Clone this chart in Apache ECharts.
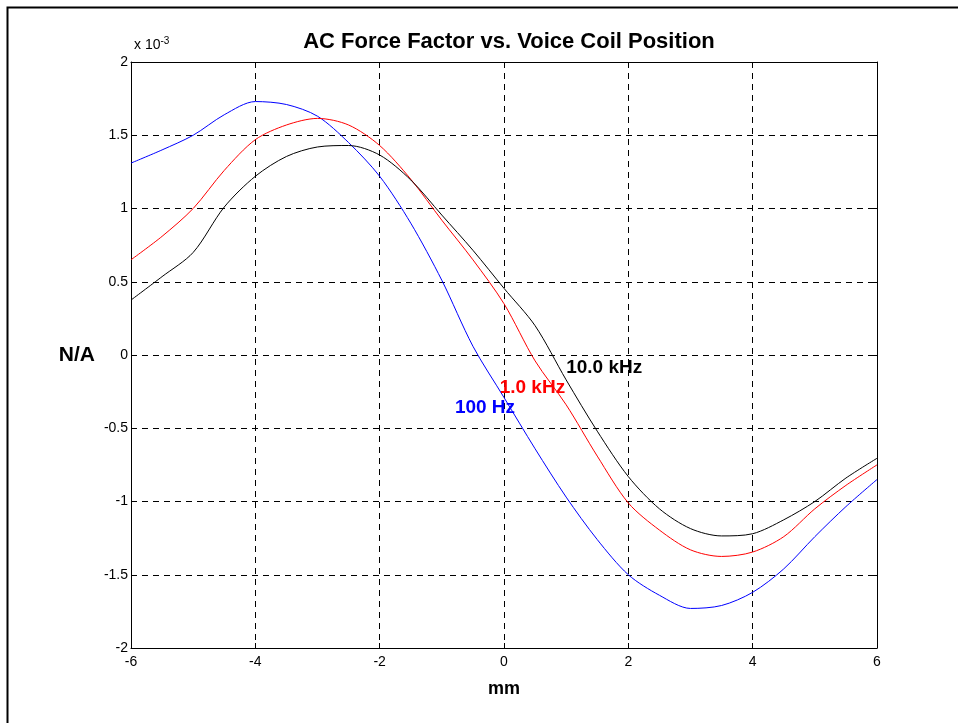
<!DOCTYPE html>
<html>
<head>
<meta charset="utf-8">
<script src="https://cdn.jsdelivr.net/npm/echarts@6/dist/echarts.min.js"></script>
<style>
html,body{margin:0;padding:0;background:#fff;}
#chart{width:958px;height:723px;}
</style>
</head>
<body>
<div id="chart"></div>
<script>
// positions in mm
const positions = [-6,-5.5,-5,-4.5,-4,-3.5,-3,-2.5,-2,-1.5,-1,-0.5,0,0.5,1,1.5,2,2.5,3,3.5,4,4.5,5,5.5,6];
// force factor, N/A (x 10^-3)
const hz100 = [1.31,1.40,1.50,1.64,1.73,1.71,1.63,1.45,1.22,0.90,0.51,0.06,-0.29,-0.64,-0.97,-1.26,-1.50,-1.64,-1.73,-1.71,-1.62,-1.46,-1.24,-1.035,-0.85];
const khz1 = [0.65,0.81,1.00,1.26,1.47,1.57,1.615,1.57,1.43,1.20,0.92,0.65,0.35,-0.04,-0.34,-0.69,-1.01,-1.195,-1.33,-1.375,-1.345,-1.24,-1.05,-0.89,-0.75];
const khz10 = [0.375,0.535,0.70,1.01,1.22,1.355,1.42,1.43,1.365,1.195,0.955,0.715,0.455,0.20,-0.17,-0.52,-0.83,-1.05,-1.185,-1.235,-1.22,-1.125,-1.00,-0.84,-0.705];
const seriesNames = ['100 Hz','1.0 kHz','10.0 kHz'];
const seriesColors = ['#0000ff','#ff0000','#000000'];
// where the curve names sit [x, y]
const namePos = [[-0.79,-0.36],[-0.07,-0.225],[1.0,-0.09]];

const font = 'Liberation Sans, Arial, sans-serif';
let chart = echarts.init(document.getElementById('chart'));

function pairs(ys){
    return positions.map(function(x,i){ return [x, ys[i]]; });
}

const gridDash = {color:'#000', width:1, type:[6,5]};

function xAx(top){
    return {
        type:'value', min:-6, max:6, interval:2,
        position: top ? 'top' : 'bottom',
        axisLine:{show:true, onZero:false, lineStyle:{color:'#000',width:1}},
        axisTick:{show:true, inside:true, length:5, lineStyle:{color:'#000'}},
        axisLabel:{show:!top, color:'#000', fontFamily:font, fontSize:14, margin:7},
        splitLine:{show:!top, lineStyle:gridDash},
        name: top ? '' : 'mm',
        nameLocation:'middle', nameGap:32,
        nameTextStyle:{color:'#000', fontFamily:font, fontSize:18, fontWeight:'bold'}
    };
}
function yAx(right){
    return {
        type:'value', min:-2, max:2, interval:0.5,
        position: right ? 'right' : 'left',
        axisLine:{show:true, onZero:false, lineStyle:{color:'#000',width:1}},
        axisTick:{show:true, inside:true, length:5, lineStyle:{color:'#000'}},
        axisLabel:{show:!right, color:'#000', fontFamily:font, fontSize:14, margin:3},
        splitLine:{show:!right, lineStyle:gridDash},
        name: right ? '' : 'N/A',
        nameLocation:'middle', nameGap:36, nameRotate:0,
        nameTextStyle:{color:'#000', fontFamily:font, fontSize:21, fontWeight:'bold'}
    };
}

const series = [hz100, khz1, khz10].map(function(ys,i){
    return {
        name:seriesNames[i], type:'line', data:pairs(ys),
        smooth:0.3, showSymbol:false, silent:true,
        lineStyle:{color:seriesColors[i], width:1},
        xAxisIndex:0, yAxisIndex:0,
        markPoint:{
            symbol:'circle', symbolSize:0, silent:true,
            data:[{coord:namePos[i]}],
            label:{show:true, position:'right', distance:0, formatter:seriesNames[i],
                color:seriesColors[i], fontFamily:font, fontSize:19, fontWeight:'bold'}
        }
    };
});

chart.setOption({
    animation:false,
    backgroundColor:'#fff',
    title:{
        text:'AC Force Factor vs. Voice Coil Position',
        left:504, top:26, textAlign:'center',
        textStyle:{color:'#000', fontFamily:font, fontSize:22, fontWeight:'bold'}
    },
    grid:{left:131, right:81, top:62, bottom:75, show:false},
    xAxis:[xAx(false), xAx(true)],
    yAxis:[yAx(false), yAx(true)],
    series:series,
    graphic:[
        {type:'rect', left:5, top:5, silent:true,
            shape:{width:1000, height:800},
            style:{fill:'none', stroke:'#000', lineWidth:2}},
        {type:'text', left:134, top:36, silent:true,
            style:{text:'x 10{s|-3}', fill:'#000', font:'14px '+font,
                rich:{s:{fontSize:10, verticalAlign:'top', padding:[0,0,9,0], fontFamily:font}}}}
    ]
});
</script>
</body>
</html>
